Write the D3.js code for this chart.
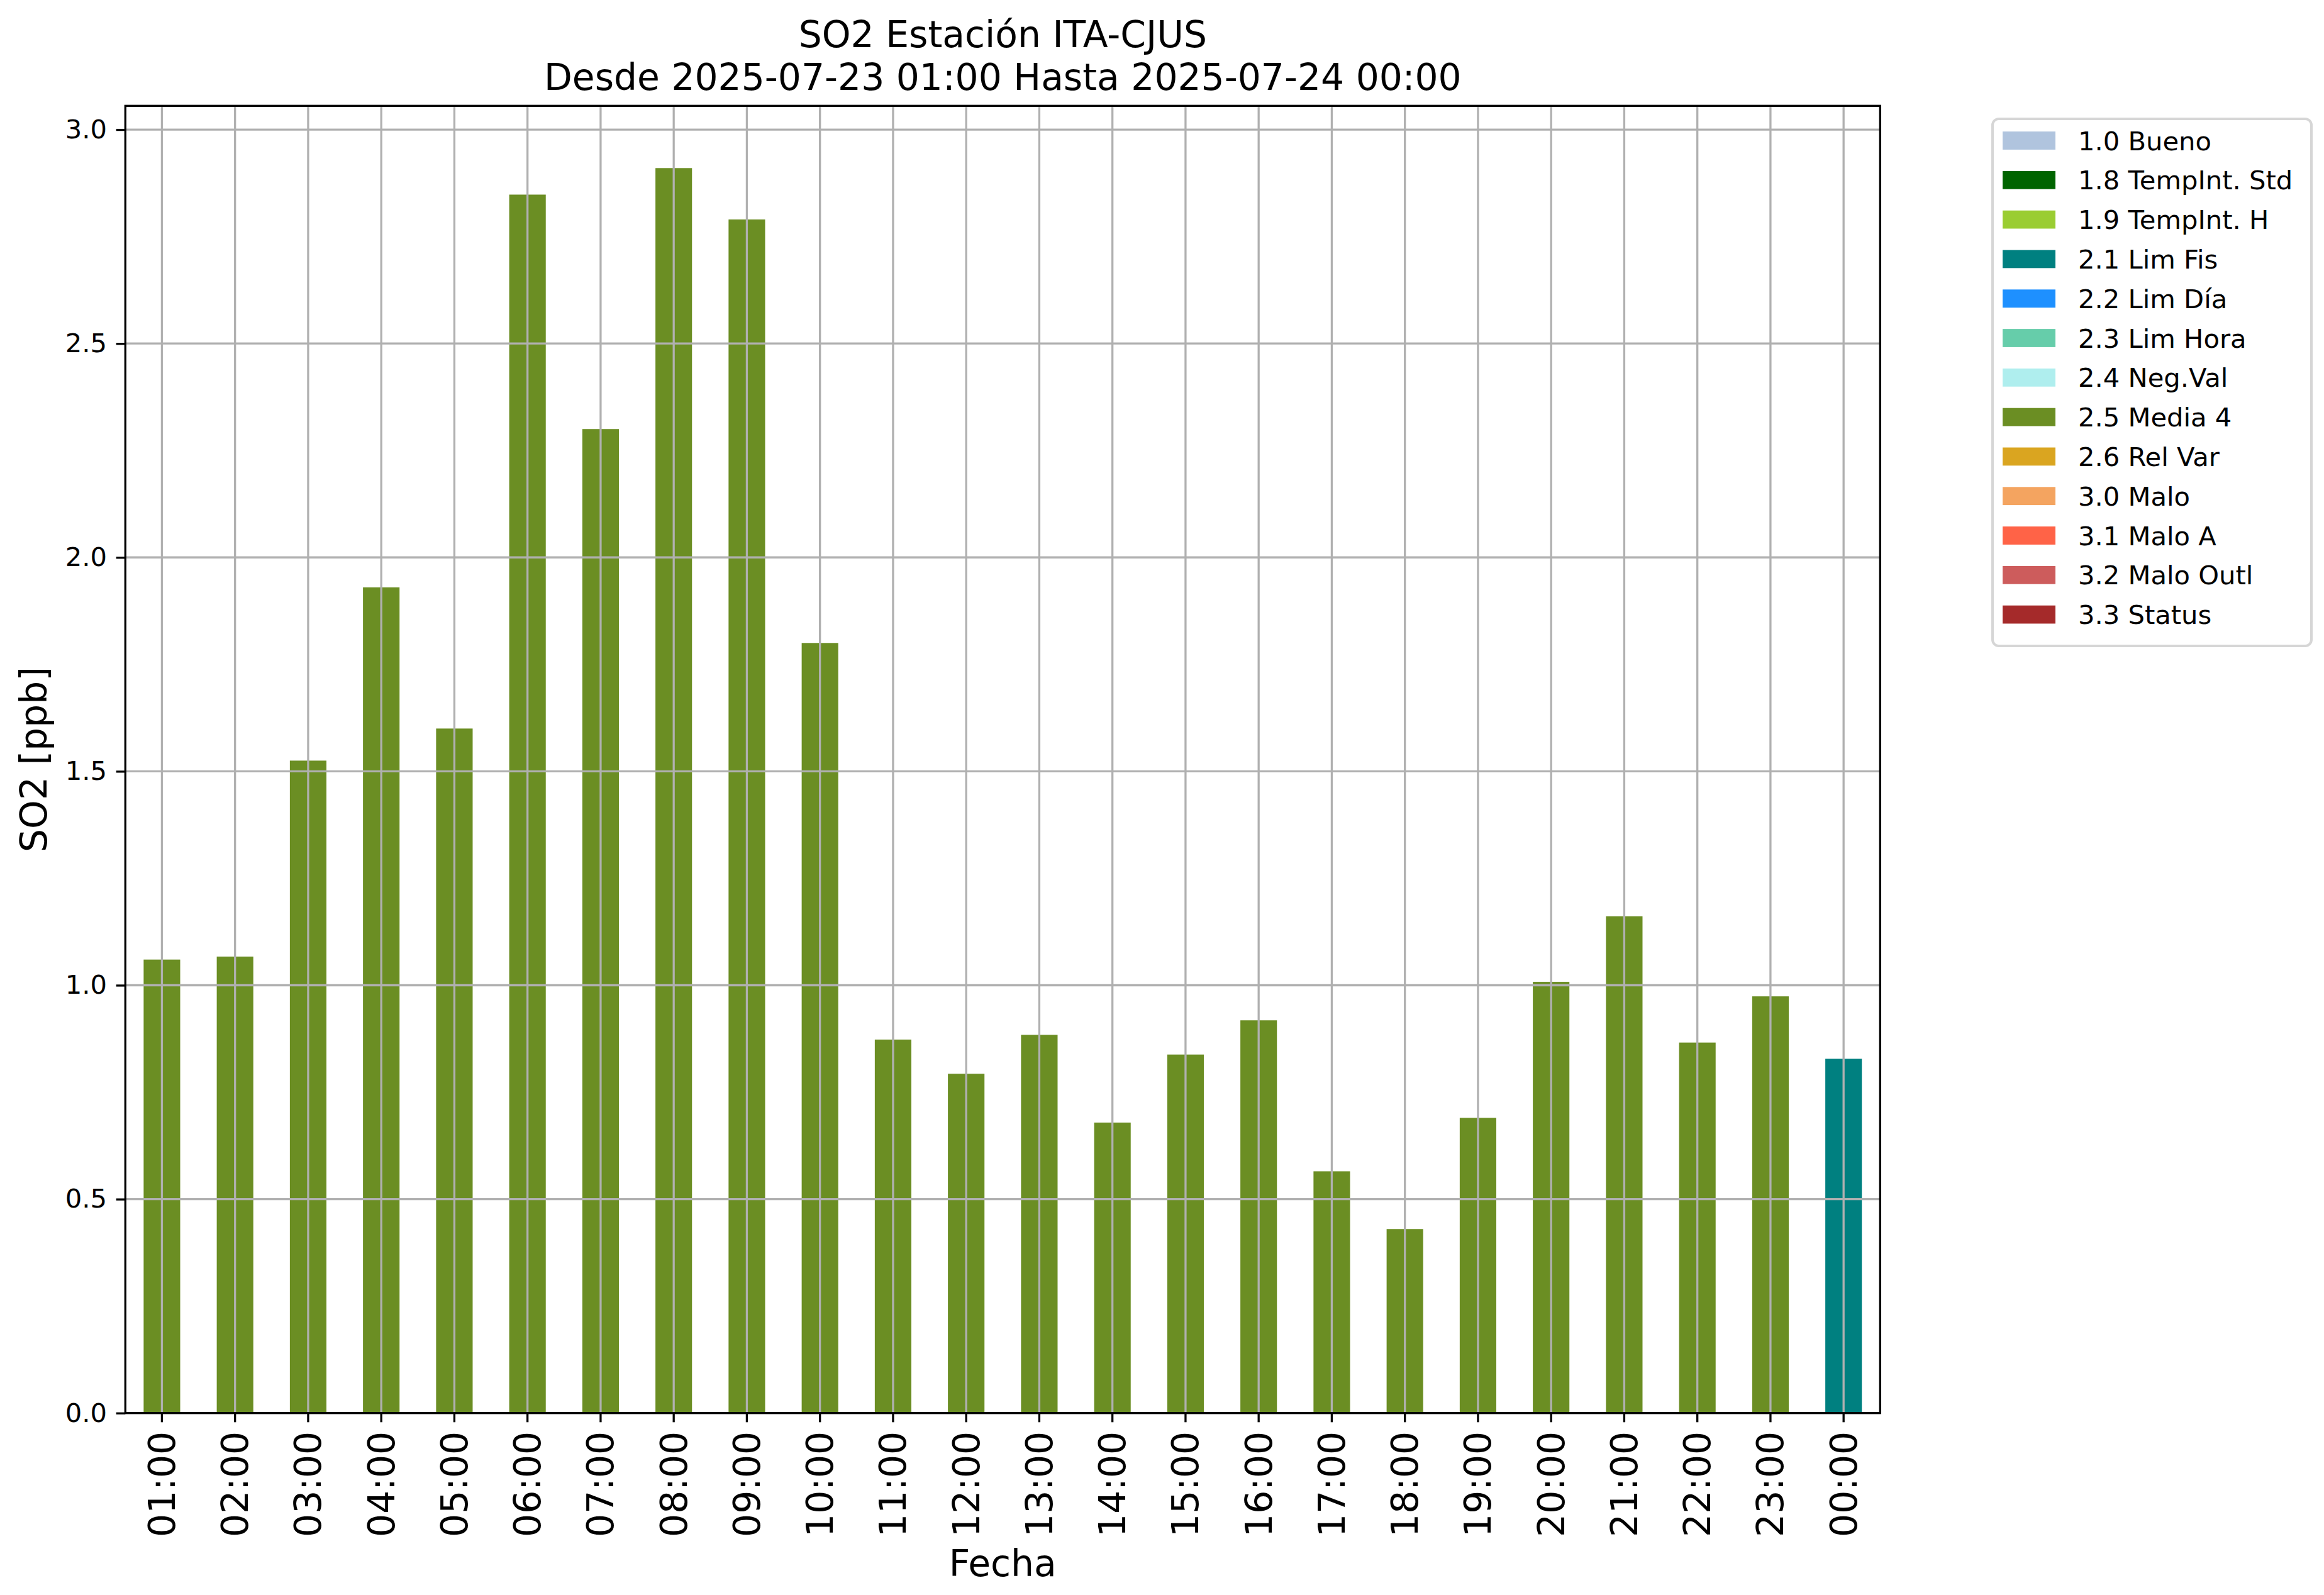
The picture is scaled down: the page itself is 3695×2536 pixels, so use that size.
<!DOCTYPE html>
<html>
<head>
<meta charset="utf-8">
<script src="https://cdnjs.cloudflare.com/ajax/libs/d3/7.8.5/d3.min.js"></script>
<style>
    body { margin: 0; background: #fff; }
    text { font-family: "DejaVu Sans", sans-serif; }
</style>
</head>
<body>
<div id="chart"></div>
<script>
// Data
const hours = ["01:00", "02:00", "03:00", "04:00", "05:00", "06:00", "07:00", "08:00",
    "09:00", "10:00", "11:00", "12:00", "13:00", "14:00", "15:00", "16:00",
    "17:00", "18:00", "19:00", "20:00", "21:00", "22:00", "23:00", "00:00"];
const so2Values = [1.06, 1.067, 1.525, 1.93, 1.60, 2.848, 2.30, 2.91,
    2.79, 1.80, 0.873, 0.793, 0.884, 0.679, 0.838, 0.918,
    0.565, 0.43, 0.69, 1.008, 1.161, 0.866, 0.974, 0.828];
const flags = ["2.5 Media 4", "2.5 Media 4", "2.5 Media 4", "2.5 Media 4", "2.5 Media 4", "2.5 Media 4",
    "2.5 Media 4", "2.5 Media 4", "2.5 Media 4", "2.5 Media 4", "2.5 Media 4", "2.5 Media 4",
    "2.5 Media 4", "2.5 Media 4", "2.5 Media 4", "2.5 Media 4", "2.5 Media 4", "2.5 Media 4",
    "2.5 Media 4", "2.5 Media 4", "2.5 Media 4", "2.5 Media 4", "2.5 Media 4", "2.1 Lim Fis"];
const legendLabels = ["1.0 Bueno", "1.8 TempInt. Std", "1.9 TempInt. H", "2.1 Lim Fis", "2.2 Lim Día",
    "2.3 Lim Hora", "2.4 Neg.Val", "2.5 Media 4", "2.6 Rel Var", "3.0 Malo", "3.1 Malo A",
    "3.2 Malo Outl", "3.3 Status"];
const legendColors = ["#B0C4DE", "#006400", "#9ACD32", "#008080", "#1E90FF",
    "#66CDAA", "#AFEEEE", "#6B8E23", "#DAA520", "#F4A460", "#FF6347",
    "#CD5C5C", "#A52A2A"];
const yTicks = [0.0, 0.5, 1.0, 1.5, 2.0, 2.5, 3.0];
const titleLines = ["SO2 Estación ITA-CJUS", "Desde 2025-07-23 01:00 Hasta 2025-07-24 00:00"];

const width = 3695, height = 2536;
const plot = { left: 199.3, right: 2989.3, top: 168.3, bottom: 2246.7 };
const lw = 3.3; // 0.8pt at 300 dpi
const tickLen = 14.6;

const svg = d3.select("#chart").append("svg")
    .attr("width", width).attr("height", height)
    .style("display", "block");
svg.append("rect").attr("width", width).attr("height", height).attr("fill", "#fff");

// Scales
const x = d3.scaleBand()
    .domain(hours)
    .range([plot.left, plot.right])
    .paddingInner(0.5)
    .paddingOuter(0.25);
const y = d3.scaleLinear()
    .domain([0, d3.max(so2Values) * 1.05])
    .range([plot.bottom, plot.top]);

const color = d3.scaleOrdinal().domain(legendLabels).range(legendColors);

// Bars
svg.append("g").selectAll("rect")
    .data(hours).enter().append("rect")
    .attr("x", d => x(d))
    .attr("width", x.bandwidth())
    .attr("y", (d, i) => y(so2Values[i]))
    .attr("height", (d, i) => y(0) - y(so2Values[i]))
    .attr("fill", (d, i) => color(flags[i]));

// Grid drawn on top of bars
const grid = svg.append("g").attr("stroke", "#b0b0b0").attr("stroke-width", lw);
grid.selectAll("line.v").data(hours).enter().append("line")
    .attr("x1", d => x(d) + x.bandwidth() / 2).attr("x2", d => x(d) + x.bandwidth() / 2)
    .attr("y1", plot.top).attr("y2", plot.bottom);
grid.selectAll("line.h").data(yTicks).enter().append("line")
    .attr("x1", plot.left).attr("x2", plot.right)
    .attr("y1", d => y(d)).attr("y2", d => y(d));

// Axes
const xAxis = d3.axisBottom(x).tickSize(tickLen).tickPadding(14.6);
const yAxis = d3.axisLeft(y).tickValues(yTicks).tickFormat(d3.format(".1f"))
    .tickSize(tickLen).tickPadding(14.6);

const gx = svg.append("g").attr("transform", `translate(0,${plot.bottom})`).call(xAxis);
gx.select(".domain").remove();
gx.selectAll(".tick line").attr("stroke", "#000").attr("stroke-width", lw);
gx.selectAll(".tick text")
    .attr("font-size", 58.3)
    .attr("fill", "#000")
    .attr("text-anchor", "end")
    .attr("transform", "rotate(-90)")
    .attr("x", -(tickLen + 14.6))
    .attr("y", 0)
    .attr("dy", "0.35em");

const gy = svg.append("g").attr("transform", `translate(${plot.left},0)`).call(yAxis);
gy.select(".domain").remove();
gy.selectAll(".tick line").attr("stroke", "#000").attr("stroke-width", lw);
gy.selectAll(".tick text").attr("font-size", 41.67).attr("fill", "#000");

// Frame
svg.append("rect")
    .attr("x", plot.left).attr("y", plot.top)
    .attr("width", plot.right - plot.left).attr("height", plot.bottom - plot.top)
    .attr("fill", "none").attr("stroke", "#000").attr("stroke-width", lw);

// Title and labels
svg.append("g").selectAll("text")
    .data(titleLines).enter().append("text")
    .attr("x", (plot.left + plot.right) / 2)
    .attr("y", (d, i) => 75 + i * 68)
    .attr("text-anchor", "middle")
    .attr("font-size", 58.3)
    .text(d => d);

svg.append("text")
    .attr("x", (plot.left + plot.right) / 2)
    .attr("y", 2506)
    .attr("text-anchor", "middle")
    .attr("font-size", 58.3)
    .text("Fecha");

svg.append("text")
    .attr("transform", `translate(74,${(plot.top + plot.bottom) / 2}) rotate(-90)`)
    .attr("text-anchor", "middle")
    .attr("font-size", 58.3)
    .text("SO2 [ppb]");

// Legend
const legend = svg.append("g");
legend.append("rect")
    .attr("x", 3168).attr("y", 189)
    .attr("width", 3675 - 3168).attr("height", 1027 - 189)
    .attr("rx", 10).attr("ry", 10)
    .attr("fill", "#fff").attr("stroke", "#d6d6d6").attr("stroke-width", 4);

const entry = legend.selectAll("g.entry")
    .data(legendLabels).enter().append("g")
    .attr("transform", (d, i) => `translate(0,${223.5 + i * 62.8})`);
entry.append("rect")
    .attr("x", 3184).attr("y", -14.4)
    .attr("width", 84).attr("height", 28.8)
    .attr("fill", d => color(d));
entry.append("text")
    .attr("x", 3304).attr("y", 15)
    .attr("font-size", 41.67)
    .text(d => d);
</script>
</body>
</html>
